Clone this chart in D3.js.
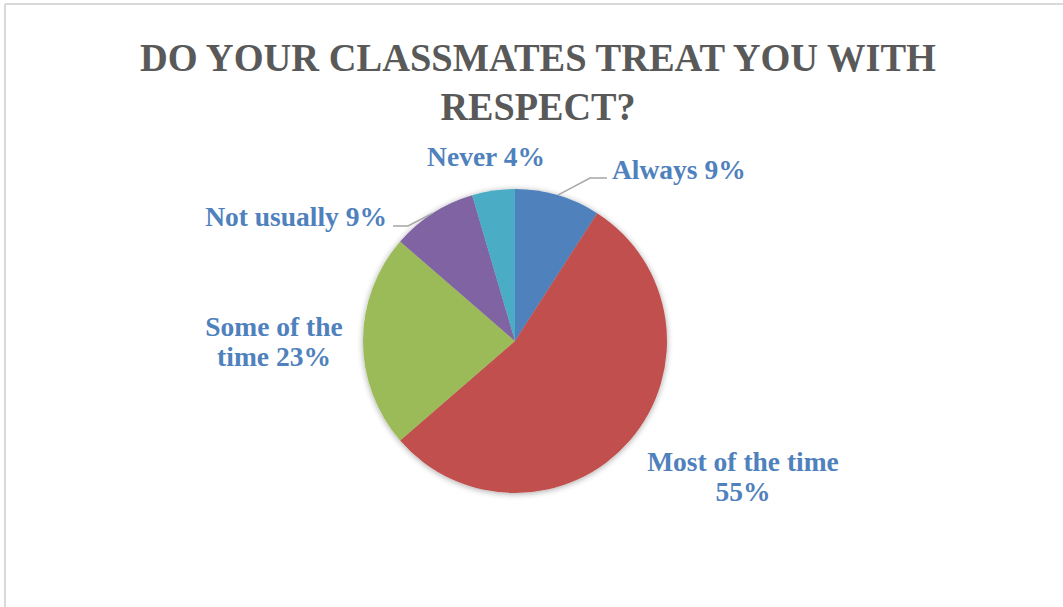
<!DOCTYPE html>
<html>
<head>
<meta charset="utf-8">
<script src="https://cdn.jsdelivr.net/npm/d3@7"></script>
<style>
  body { margin: 0; background: #fff; }
  svg { display: block; }
</style>
</head>
<body>
<div id="chart"></div>
<script>
// survey answers (counts) - labels show rounded percent
const categories = ["Always", "Most of the time", "Some of the time", "Not usually", "Never"];
const counts = [2, 12, 5, 2, 1];
const colors = ["#4f81bd", "#c0504d", "#9bbb59", "#8064a2", "#4bacc6"];
const titleLines = ["DO YOUR CLASSMATES TREAT YOU WITH", "RESPECT?"];
// label text lines per slice
const labelLines = [["Always 9%"], ["Most of the time", "55%"], ["Some of the", "time 23%"], ["Not usually 9%"], ["Never 4%"]];

const width = 1063, height = 607;
const cx = 515, cy = 341, r = 152;

const svg = d3.select("#chart").append("svg")
    .attr("width", width)
    .attr("height", height);

// chart frame (only top + left visible)
svg.append("line").attr("x1", 5).attr("x2", width).attr("y1", 4).attr("y2", 4)
    .attr("stroke", "#d9d9d9").attr("stroke-width", 2);
svg.append("line").attr("x1", 5).attr("x2", 5).attr("y1", 4).attr("y2", height)
    .attr("stroke", "#d9d9d9").attr("stroke-width", 2);

// title
const titleWidths = [796, 195];
svg.append("g").selectAll("text")
  .data(titleLines)
  .enter().append("text")
    .attr("x", 538)
    .attr("y", (d, i) => 71 + i * 49)
    .attr("text-anchor", "middle")
    .attr("textLength", (d, i) => titleWidths[i])
    .attr("lengthAdjust", "spacingAndGlyphs")
    .style("font-family", "'Liberation Serif', serif")
    .style("font-weight", "bold")
    .style("font-size", "41px")
    .style("fill", "#595959")
    .text(d => d);

// soft shadow for the pie
const defs = svg.append("defs");
const f = defs.append("filter").attr("id", "shadow")
    .attr("x", "-20%").attr("y", "-20%").attr("width", "140%").attr("height", "140%");
f.append("feGaussianBlur").attr("in", "SourceAlpha").attr("stdDeviation", 3).attr("result", "b");
f.append("feOffset").attr("in", "b").attr("dx", 0).attr("dy", 1).attr("result", "o");
f.append("feComponentTransfer").attr("in", "o").attr("result", "s")
  .append("feFuncA").attr("type", "linear").attr("slope", 0.35);
const m = f.append("feMerge");
m.append("feMergeNode").attr("in", "s");
m.append("feMergeNode").attr("in", "SourceGraphic");

const pie = d3.pie().sort(null).value(d => d);
const arcs = pie(counts);
const arc = d3.arc().innerRadius(0).outerRadius(r);

const g = svg.append("g")
    .attr("transform", `translate(${cx},${cy})`);

g.append("g").attr("filter", "url(#shadow)")
  .selectAll("path")
  .data(arcs)
  .enter().append("path")
    .attr("d", arc)
    .attr("fill", (d, i) => colors[i]);

// leader lines for the small slices
const edge = d3.arc().innerRadius(r).outerRadius(r);
const leaders = [
  { i: 0, pts: [[590 - cx, 178 - cy], [607 - cx, 178 - cy]] },
  { i: 3, pts: [[408 - cx, 226 - cy], [393 - cx, 226 - cy]] }
];
g.selectAll("polyline.leader")
  .data(leaders)
  .enter().append("polyline")
    .attr("class", "leader")
    .attr("points", d => [edge.centroid(arcs[d.i])].concat(d.pts).map(p => p.join(",")).join(" "))
    .attr("fill", "none")
    .attr("stroke", "#a6a6a6")
    .attr("stroke-width", 1.5);

// data labels
const labelPos = [
  { x: 612, y: 179, anchor: "start" },
  { x: 743, y: 471, anchor: "middle" },
  { x: 274, y: 336, anchor: "middle" },
  { x: 387, y: 226, anchor: "end" },
  { x: 486, y: 166, anchor: "middle" }
];
const labels = svg.append("g").selectAll("text")
  .data(arcs)
  .enter().append("text")
    .attr("x", (d, i) => labelPos[i].x)
    .attr("y", (d, i) => labelPos[i].y)
    .attr("text-anchor", (d, i) => labelPos[i].anchor)
    .style("font-family", "'Liberation Serif', serif")
    .style("font-weight", "bold")
    .style("font-size", "27.5px")
    .style("fill", "#4f81bd");

labels.each(function (d, i) {
  d3.select(this).selectAll("tspan")
    .data(labelLines[i])
    .enter().append("tspan")
      .attr("x", labelPos[i].x)
      .attr("dy", (t, j) => j === 0 ? 0 : 30)
      .text(t => t);
});
</script>
</body>
</html>
